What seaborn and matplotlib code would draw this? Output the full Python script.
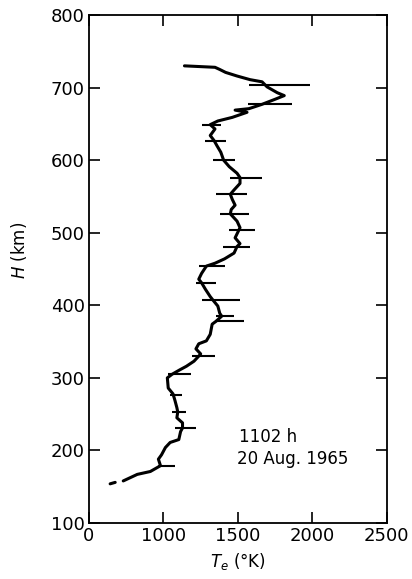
import matplotlib
matplotlib.use("Agg")
import matplotlib.pyplot as plt
import seaborn as sns
import pandas as pd

# Electron temperature profile, 1102 h, 20 Aug. 1965
te_main = [1141, 1346, 1378, 1417, 1494, 1581, 1662, 1696, 1764, 1811,
           1750, 1662, 1574, 1481, 1561, 1462, 1365, 1314, 1346, 1314,
           1340, 1359, 1385, 1404, 1442, 1494, 1514, 1514, 1474, 1449,
           1462, 1481, 1455, 1449, 1494, 1514, 1507, 1481, 1514, 1494,
           1474, 1410, 1346, 1288, 1256, 1237, 1256, 1282, 1314, 1333,
           1365, 1378, 1391, 1353, 1327, 1314, 1288, 1237, 1218, 1250,
           1237, 1205, 1154, 1109, 1058, 1026, 1032, 1064, 1077, 1090,
           1096, 1090, 1128, 1128, 1115, 1103, 1045, 1013, 987, 966,
           980, 912, 824, 730]
h_main = [730, 728, 725, 721, 716, 711, 708, 701, 693, 689,
          684, 677, 671, 669, 666, 659, 654, 649, 643, 634,
          627, 620, 611, 600, 591, 582, 576, 568, 559, 553,
          546, 538, 532, 526, 516, 507, 504, 493, 485, 481,
          472, 464, 458, 454, 444, 436, 431, 422, 412, 407,
          399, 389, 385, 378, 374, 360, 351, 347, 340, 333,
          330, 323, 316, 311, 305, 300, 286, 278, 269, 259,
          253, 245, 238, 231, 226, 215, 211, 204, 194, 188,
          179, 171, 167, 158]

# Lowest, isolated piece of the profile
te_low = [676, 642]
h_low = [156, 154]

# Uncertainty bars: height and temperature range
bar_h = [704, 677, 649, 627, 600, 576, 553, 526, 504, 481, 454,
         431, 407, 385, 378, 330, 305, 277, 253, 231, 179]
bar_lo = [1574, 1567, 1256, 1282, 1333, 1449, 1353, 1378, 1442, 1397, 1237,
          1218, 1256, 1353, 1346, 1192, 1032, 1045, 1058, 1077, 966]
bar_hi = [1986, 1865, 1385, 1417, 1481, 1662, 1561, 1574, 1615, 1581, 1410,
          1353, 1514, 1474, 1541, 1346, 1186, 1122, 1154, 1218, 1077]

x_ticks = [500, 1000, 1500, 2000, 2500]
x_tick_labels = ["0", "1000", "1500", "2000", "2500"]
y_ticks = [100, 200, 300, 400, 500, 600, 700, 800]

sns.set_style("ticks")
plt.rcParams["font.family"] = ["DejaVu Sans"]
plt.rcParams["text.color"] = "black"
plt.rcParams["axes.labelcolor"] = "black"

fig = plt.figure(figsize=(4.12, 5.79), dpi=100)
ax = fig.add_axes([0.216, 0.0967, 0.723, 0.8773])

main = pd.DataFrame({"Te": te_main, "H": h_main})
low = pd.DataFrame({"Te": te_low, "H": h_low})
sns.lineplot(data=main, x="Te", y="H", sort=False, estimator=None,
             color="black", lw=2.2, ax=ax)
sns.lineplot(data=low, x="Te", y="H", sort=False, estimator=None,
             color="black", lw=2.2, ax=ax)
ax.hlines(bar_h, bar_lo, bar_hi, color="black", lw=1.5)

ax.set_xlim(500, 2500)
ax.set_ylim(100, 800)
ax.set_xticks(x_ticks)
ax.set_xticklabels(x_tick_labels)
ax.set_yticks(y_ticks)

ax.tick_params(axis="both", direction="in", length=8, width=1.2,
               labelsize=13, top=True, right=True, pad=3, colors="black")
for s in ax.spines.values():
    s.set_linewidth(1.3)
    s.set_color("black")

ax.set_xlabel(r"$T_e$ ($\degree$K)", fontsize=12, color="black", labelpad=4)
ax.set_ylabel(r"$H$ (km)", fontsize=12, color="black")
ax.yaxis.set_label_coords(-0.20, 0.537)

ax.text(1505, 219, "1102 h", fontsize=12, va="center", ha="left", color="black")
ax.text(1495, 188, "20 Aug. 1965", fontsize=12, va="center", ha="left", color="black")

fig.savefig("out.png", dpi=100, facecolor="white")
